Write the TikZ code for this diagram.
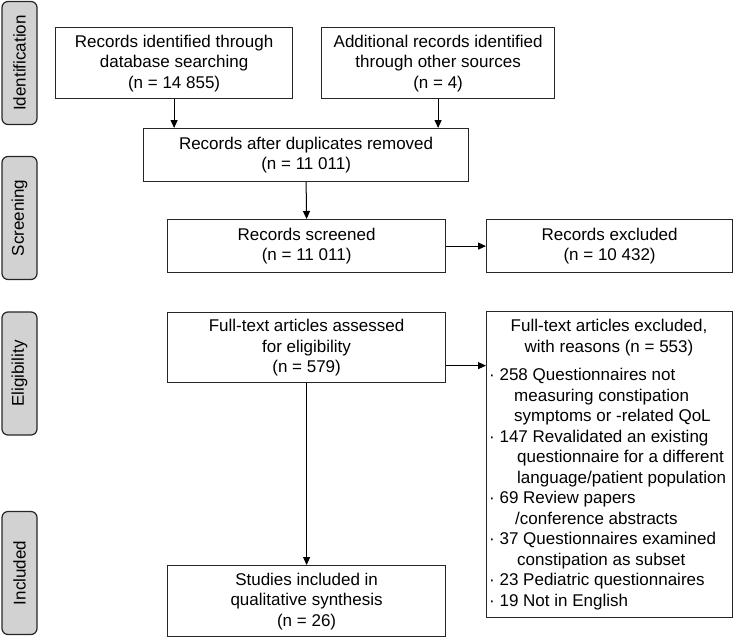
\documentclass[tikz,border=0pt]{standalone}
\usepackage{fontspec}
\setmainfont{Liberation Sans}
\usetikzlibrary{arrows.meta,calc}
\definecolor{sidegray}{HTML}{D2D2D2}
\definecolor{edge}{HTML}{262626}
\begin{document}
\begin{tikzpicture}[x=1pt,y=-1pt,
  txt/.style={font=\fontsize{17}{20.5}\selectfont},
  box/.style={txt,draw=edge,line width=1.2pt,rectangle,inner sep=0pt,align=center,anchor=north west},
  sidebox/.style={txt,draw=edge,fill=sidegray,line width=1.2pt,rounded corners=6pt,rotate=90,
    minimum width=123pt,minimum height=35pt,inner sep=0pt},
  arr/.style={-{Triangle[length=8pt,width=7pt]},line width=1pt,draw=black}]
\useasboundingbox (0,0) rectangle (735,637);
% side labels
\node[sidebox] (s1) at (19.5,63) {Identification};
\node[sidebox] (s2) at (19.5,218) {Screening};
\node[sidebox] (s3) at (19.5,373.5) {Eligibility};
\node[sidebox] (s4) at (19.5,573) {Included};
% boxes
\node[box,minimum width=237pt,minimum height=71pt] (A) at (55,27)
  {Records identified through\\database searching\\(n = 14 855)};
\node[box,minimum width=233pt,minimum height=71pt] (B) at (321,27)
  {Additional records identified\\through other sources\\(n = 4)};
\node[box,minimum width=325pt,minimum height=53pt] (C) at (143,128)
  {Records after duplicates removed\\(n = 11 011)};
\node[box,minimum width=278pt,minimum height=53pt] (D) at (167,219)
  {Records screened\\(n = 11 011)};
\node[box,minimum width=246pt,minimum height=53pt] (E) at (486,219)
  {Records excluded\\(n = 10 432)};
\node[box,minimum width=278pt,minimum height=70pt] (F) at (167,312)
  {Full-text articles assessed\\for eligibility\\(n = 579)};
\node[box,minimum width=246pt,minimum height=306pt] (G) at (486,311) {};
\node[box,minimum width=278pt,minimum height=71pt] (H) at (167,565)
  {Studies included in\\qualitative synthesis\\(n = 26)};
% excluded reasons text
\node[txt,align=center,inner sep=0pt] (Gt) at (609,337.5)
  {Full-text articles excluded,\\with reasons (n = 553)};
\node[txt,align=left,inner sep=0pt,anchor=north west] (Gl) at (489,368)
  {· 258 Questionnaires not\\
   \hspace*{25pt}measuring constipation\\
   \hspace*{25pt}symptoms or -related QoL\\
   · 147 Revalidated an existing\\
   \hspace*{28pt}questionnaire for a different\\
   \hspace*{28pt}language/patient population\\
   · 69 Review papers\\
   \hspace*{26pt}/conference abstracts\\
   · 37 Questionnaires examined\\
   \hspace*{28pt}constipation as subset\\
   · 23 Pediatric questionnaires\\
   · 19 Not in English};
% connectors
\draw[arr] (A.south) -- (A.south |- C.north);
\draw[arr] (B.south) -- (B.south |- C.north);
\draw[arr] (C.south) -- (D.north);
\draw[arr] (D.east) -- (E.west);
\draw[arr] ([yshift=-18pt]F.east) -- ([yshift=-18pt]F.east -| G.west);
\draw[arr] (F.south) -- (H.north);
\end{tikzpicture}
\end{document}
